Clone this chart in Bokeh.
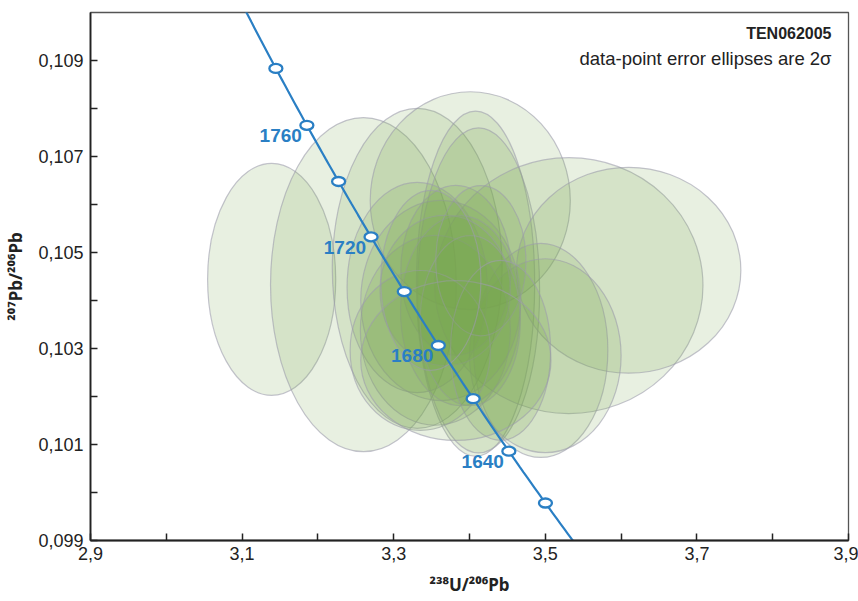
import numpy as np
from bokeh.plotting import figure
from bokeh.models import FixedTicker, CustomJSTickFormatter, Range1d, ColumnDataSource
from bokeh.core.properties import value
from bokeh.embed import file_html
from bokeh.resources import INLINE

# ---- data: error ellipses (2 sigma) ----
ell_x = [3.139, 3.260, 3.331, 3.401, 3.408, 3.412, 3.531, 3.610, 3.494, 3.500,
         3.331, 3.362, 3.382, 3.355, 3.388, 3.368, 3.401, 3.335, 3.415, 3.441,
         3.382, 3.349]
ell_y = [0.10444, 0.10433, 0.10467, 0.10608, 0.10435, 0.10421, 0.10431, 0.10463,
         0.10296, 0.10285, 0.10427, 0.10400, 0.10463, 0.10338, 0.10379, 0.10421,
         0.10358, 0.10296, 0.10483, 0.10296, 0.10275, 0.10442]
ell_w = [0.169, 0.245, 0.224, 0.264, 0.156, 0.161, 0.354, 0.296, 0.177, 0.200,
         0.185, 0.211, 0.145, 0.198, 0.158, 0.172, 0.132, 0.185, 0.119, 0.132,
         0.251, 0.132]
ell_h = [0.00483, 0.00696, 0.00667, 0.00454, 0.00719, 0.00677, 0.00533, 0.00429,
         0.00446, 0.00404, 0.00438, 0.00417, 0.00354, 0.00396, 0.00396, 0.00313,
         0.00354, 0.00333, 0.00313, 0.00375, 0.00333, 0.00375]

# ---- concordia (Tera-Wasserburg) ----
marker_ages = [1620, 1640, 1660, 1680, 1700, 1720, 1740, 1760, 1780]
label_ages = [1640, 1680, 1720, 1760]
L238 = 1.55125e-4   # per Ma
L235 = 9.8485e-4    # per Ma
U_RATIO = 137.88

def tera_wasserburg(t):
    t = np.asarray(t, dtype=float)
    e8 = np.exp(L238 * t) - 1.0
    e5 = np.exp(L235 * t) - 1.0
    return 1.0 / e8, e5 / e8 / U_RATIO

curve_ages = np.arange(1580, 1831, 2)
cx, cy = tera_wasserburg(curve_ages)
mx, my = tera_wasserburg(marker_ages)
lx, ly = tera_wasserburg(label_ages)

x_major = [2.9, 3.1, 3.3, 3.5, 3.7, 3.9]
x_minor = [3.0, 3.2, 3.4, 3.6, 3.8]
y_major = [0.099, 0.101, 0.103, 0.105, 0.107, 0.109]
y_minor = [0.100, 0.102, 0.104, 0.106, 0.108]

x_title = "²³⁸U/²⁰⁶Pb"
y_title = "²⁰⁷Pb/²⁰⁶Pb"

FONT = "Liberation Sans"
BLUE = "#2a7fc4"
DARK = "#222222"

p = figure(width=858, height=601, x_range=Range1d(2.9, 3.9), y_range=Range1d(0.099, 0.110),
           output_backend="svg", toolbar_location=None,
           min_border_left=90, min_border_right=10, min_border_top=12, min_border_bottom=61)
p.grid.visible = False
p.outline_line_color = "#555555"
p.outline_line_width = 1.3

src = ColumnDataSource(dict(x=ell_x, y=ell_y, w=ell_w, h=ell_h))
p.ellipse(x="x", y="y", width="w", height="h", source=src,
          fill_color="#78a84e", fill_alpha=0.17,
          line_color="#9c9cab", line_alpha=0.6, line_width=1.2)

p.line(cx, cy, line_color=BLUE, line_width=2.2)
p.ellipse(mx, my, width=13, height=9, width_units="screen", height_units="screen",
          fill_color="white", line_color=BLUE, line_width=2.3)
p.text(lx, ly, text=[str(a) for a in label_ages], text_align="right", text_baseline="top",
       x_offset=-5, y_offset=4, text_color=BLUE, text_font=value(FONT),
       text_font_style="bold", text_font_size="19px")

p.text([3.8776], [0.10956], text=["TEN062005"], text_align="right", text_baseline="middle",
       text_font=value(FONT), text_font_style="bold", text_font_size="16px", text_color=DARK)
p.text([3.8776], [0.10904], text=["data-point error ellipses are 2σ"], text_align="right",
       text_baseline="middle", text_font=value(FONT), text_font_size="18.5px", text_color=DARK)

for ax, maj, mnr, fmt in ((p.xaxis[0], x_major, x_minor, 1), (p.yaxis[0], y_major, y_minor, 3)):
    ax.ticker = FixedTicker(ticks=maj, minor_ticks=mnr)
    ax.formatter = CustomJSTickFormatter(code="return tick.toFixed(%d).replace('.', ',');" % fmt)
    ax.major_tick_in = 7
    ax.major_tick_out = 0
    ax.minor_tick_in = 7
    ax.minor_tick_out = 0
    ax.major_tick_line_width = 1.5
    ax.minor_tick_line_width = 1.5
    ax.major_tick_line_color = DARK
    ax.minor_tick_line_color = DARK
    ax.axis_line_width = 1.8
    ax.axis_line_color = DARK
    ax.major_label_text_font = FONT
    ax.major_label_text_font_size = "18px"
    ax.major_label_text_color = DARK
    ax.axis_label_text_font = "Noto Sans"
    ax.axis_label_text_font_style = "bold"
    ax.axis_label_text_font_size = "17px"
    ax.axis_label_text_color = DARK

p.xaxis.axis_label = x_title
p.yaxis.axis_label = y_title
p.xaxis.major_label_standoff = 6
p.xaxis.axis_label_standoff = 10
p.yaxis.major_label_standoff = 7
p.yaxis.axis_label_standoff = 8

open("out.html", "w").write(file_html(p, INLINE))
